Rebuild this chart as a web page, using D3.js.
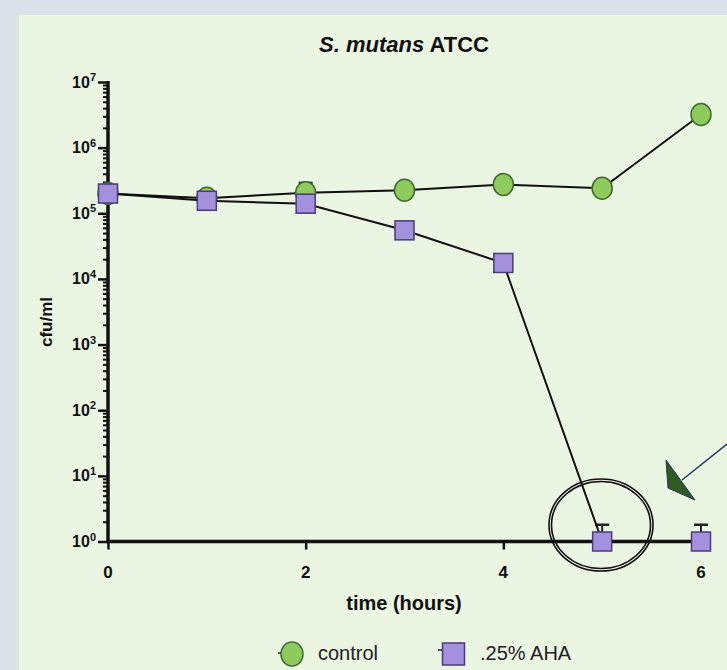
<!DOCTYPE html>
<html><head><meta charset="utf-8">
<script src="https://cdn.jsdelivr.net/npm/d3@7"></script>
<style>
html,body{margin:0;padding:0;background:#dce1ea;}
svg{display:block;font-family:"Liberation Sans",Arial,sans-serif;}
</style></head>
<body>
<svg id="chart" width="727" height="670"></svg>
<script>
const times = [0, 1, 2, 3, 4, 5, 6];
const control = [2.0e5, 1.7e5, 2.05e5, 2.25e5, 2.75e5, 2.4e5, 3.2e6];
const controlErrHi = [null, null, 2.9e5, null, null, null, null];
const controlErrLo = [null, null, null, null, 2.4e5, null, null];
const aha = [2.0e5, 1.55e5, 1.4e5, 5.5e4, 1.75e4, 1, 1];
const ahaErrHi = [null, null, null, null, null, 1.8, 1.8];
const xTicks = [0, 2, 4, 6];
const yMajor = [1, 10, 100, 1e3, 1e4, 1e5, 1e6, 1e7];
const seriesNames = ["control", ".25% AHA"];

const svg = d3.select("#chart");
svg.append("rect").attr("x", 19).attr("y", 15).attr("width", 727 - 19).attr("height", 670 - 15).attr("fill", "#eaf5e2");

const x = d3.scaleLinear().domain([0, 6]).range([108, 701]);
const y = d3.scaleLog().domain([1, 1e7]).range([541.5, 82]);

// title
const title = svg.append("text").attr("x", 404).attr("y", 52).attr("text-anchor", "middle")
  .attr("font-weight", "bold").attr("font-size", 22).attr("fill", "#111");
title.append("tspan").attr("font-style", "italic").text("S. mutans");
title.append("tspan").text(" ATCC");

// y axis minor ticks
const minor = [];
for (let e = 0; e < 7; e++) for (let m = 2; m <= 9; m++) minor.push(m * Math.pow(10, e));
const yAxisMinor = d3.axisLeft(y).tickValues(minor).tickSize(5).tickFormat("");
const gyMinor = svg.append("g").attr("transform", "translate(108,0)").call(yAxisMinor);
gyMinor.select(".domain").remove();
gyMinor.selectAll("line").attr("stroke", "#111").attr("stroke-width", 2);

const yAxisMajor = d3.axisLeft(y).tickValues(yMajor).tickSize(10).tickFormat("");
const gy = svg.append("g").attr("transform", "translate(108,0)").call(yAxisMajor);
gy.select(".domain").attr("stroke", "#111").attr("stroke-width", 3.5).attr("d", `M0,${y(1)+1.5}V${y(1e7)-1}`);
gy.selectAll(".tick line").attr("stroke", "#111").attr("stroke-width", 2.5);

// y tick labels
yMajor.forEach(v => {
  const t = svg.append("text").attr("x", 96).attr("y", y(v) + 5.5).attr("text-anchor", "end")
    .attr("font-weight", "bold").attr("font-size", 16).attr("fill", "#111");
  t.append("tspan").text("10");
  t.append("tspan").attr("font-size", 11).attr("dy", -6.5).text(Math.round(Math.log10(v)));
});

// x axis
const xAxis = d3.axisBottom(x).tickValues(xTicks).tickSize(8).tickFormat("");
const gx = svg.append("g").attr("transform", `translate(0,${y(1)})`).call(xAxis);
gx.select(".domain").attr("stroke", "#111").attr("stroke-width", 3.5).attr("d", `M${x(0)-1.5},0H${x(6)+1}`);
gx.selectAll(".tick line").attr("stroke", "#111").attr("stroke-width", 2.5);
xTicks.forEach(v => {
  svg.append("text").attr("x", x(v)).attr("y", 578).attr("text-anchor", "middle")
    .attr("font-weight", "bold").attr("font-size", 17).attr("fill", "#111").text(v);
});

// axis titles
svg.append("text").attr("transform", "translate(52,322) rotate(-90)").attr("text-anchor", "middle")
  .attr("font-weight", "bold").attr("font-size", 17).attr("fill", "#111").text("cfu/ml");
svg.append("text").attr("x", 404).attr("y", 610).attr("text-anchor", "middle")
  .attr("font-weight", "bold").attr("font-size", 20).attr("fill", "#111").text("time (hours)");

const line = d3.line().x(d => x(d[0])).y(d => y(d[1]));
const cData = times.map((t, i) => [t, control[i]]);
const aData = times.map((t, i) => [t, aha[i]]);

function errBars(vals, hi, lo) {
  times.forEach((t, i) => {
    [hi[i], lo ? lo[i] : null].forEach(e => {
      if (e == null) return;
      svg.append("line").attr("x1", x(t)).attr("x2", x(t)).attr("y1", y(vals[i])).attr("y2", y(e))
        .attr("stroke", "#222").attr("stroke-width", 2);
      svg.append("line").attr("x1", x(t) - 7).attr("x2", x(t) + 7).attr("y1", y(e)).attr("y2", y(e))
        .attr("stroke", "#222").attr("stroke-width", 2.5);
    });
  });
}

// control
errBars(control, controlErrHi, controlErrLo);
svg.append("path").datum(cData).attr("d", line).attr("fill", "none").attr("stroke", "#111").attr("stroke-width", 2);
svg.selectAll(".c").data(cData).join("ellipse").attr("cx", d => x(d[0])).attr("cy", d => y(d[1]))
  .attr("rx", 10).attr("ry", 11).attr("fill", "#8ccb5c").attr("stroke", "#3d6b2c").attr("stroke-width", 1.5);

// aha
errBars(aha, ahaErrHi, null);
svg.append("path").datum(aData).attr("d", line).attr("fill", "none").attr("stroke", "#111").attr("stroke-width", 2);
svg.selectAll(".a").data(aData).join("rect").attr("x", d => x(d[0]) - 9.5).attr("y", d => y(d[1]) - 9.5)
  .attr("width", 19).attr("height", 19).attr("fill", "#a391e0").attr("stroke", "#4a3c78").attr("stroke-width", 1.5);

// annotation ellipse (double line)
[[52, 46], [49.5, 43.5]].forEach(r => {
  svg.append("ellipse").attr("cx", 601).attr("cy", 525).attr("rx", r[0]).attr("ry", r[1])
    .attr("fill", "none").attr("stroke", "#111").attr("stroke-width", 1.6);
});
// arrow
svg.append("line").attr("x1", 727).attr("y1", 444).attr("x2", 682).attr("y2", 480)
  .attr("stroke", "#1d3557").attr("stroke-width", 1.5);
svg.append("polygon").attr("points", "666,460 668,488 695,500")
  .attr("fill", "#2e5b1f").attr("stroke", "#1d3557").attr("stroke-width", 1);

// legend
const lg = svg.append("g");
lg.append("line").attr("x1", 278).attr("x2", 283).attr("y1", 653).attr("y2", 653).attr("stroke", "#222").attr("stroke-width", 1.5);
lg.append("ellipse").attr("cx", 292).attr("cy", 654).attr("rx", 11).attr("ry", 12)
  .attr("fill", "#8ccb5c").attr("stroke", "#3d6b2c").attr("stroke-width", 1.5);
lg.append("text").attr("x", 318).attr("y", 660).attr("font-size", 20).attr("fill", "#222").text(seriesNames[0]);
lg.append("line").attr("x1", 438).attr("x2", 443).attr("y1", 650).attr("y2", 650).attr("stroke", "#222").attr("stroke-width", 1.5);
lg.append("rect").attr("x", 442.5).attr("y", 643).attr("width", 22).attr("height", 22)
  .attr("fill", "#a391e0").attr("stroke", "#4a3c78").attr("stroke-width", 1.5);
lg.append("text").attr("x", 480).attr("y", 660).attr("font-size", 20).attr("fill", "#222").text(seriesNames[1]);
</script>
</body></html>
